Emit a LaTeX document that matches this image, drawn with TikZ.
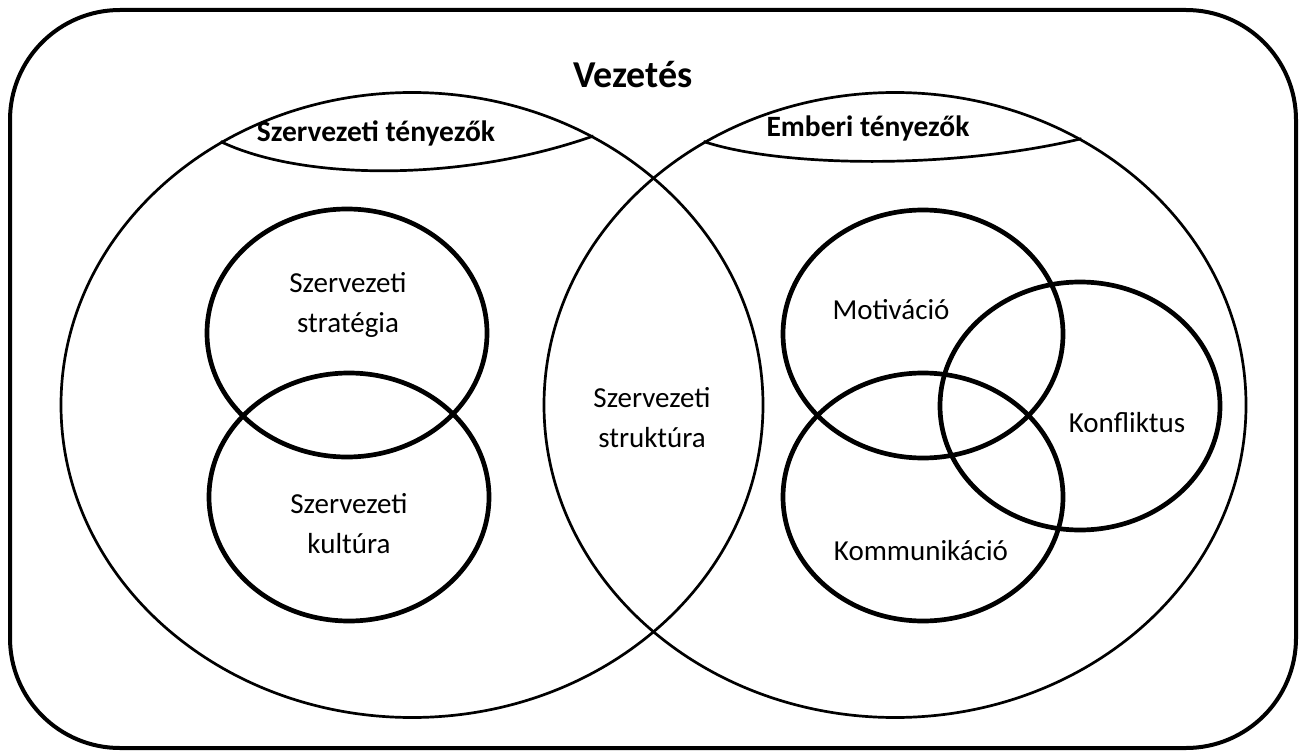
\documentclass[tikz,border=0pt]{standalone}
\usepackage{fontspec}
\setmainfont{Carlito}
\usepackage{tikz}
\usetikzlibrary{shapes,arrows,positioning,fit}

\begin{document}
\begin{tikzpicture}[x=1pt, y=-1pt]
			\tikzstyle{Frame}	= [line width=4pt, rounded corners=110pt]
			\tikzstyle{Field}	= [ellipse, draw, line width=2.7pt, minimum width=702pt, minimum height=625pt, inner sep=0pt]
			\tikzstyle{Factor}	= [ellipse, draw, line width=4.7pt, minimum width=280pt, minimum height=248pt, inner sep=0pt]
			\tikzstyle{Label}	= [font=\fontsize{29}{40}\selectfont, align=center, inner sep=0pt]
			\tikzstyle{Head}	= [font=\bfseries\fontsize{29.5}{35}\selectfont, inner sep=0pt, anchor=base]
			\tikzstyle{Title}	= [font=\bfseries\fontsize{38}{44}\selectfont, inner sep=0pt, anchor=base]
			\tikzstyle{Cap}		= [line width=2.7pt]
			
			\useasboundingbox (0,0) rectangle (1300,751);
			\draw [Frame] (10,10) rectangle (1296,748);
			
			\node (org) at (412,405) [Field] {};
			\node (hum) at (895,405) [Field] {};
			
			\node (strat) at (347,333) [Factor] {};
			\node (cult) at (349,497) [Factor] {};
			\node (motiv) at (923,334) [Factor] {};
			\node (confl) at (1080,406) [Factor] {};
			\node (comm) at (923,497) [Factor] {};
			
			\draw [Cap] (org.126) .. controls (300,180) and (460,183) .. (org.56);
			\draw [Cap] (hum.126) .. controls (780,167) and (950,170) .. (hum.55);
			
			\node (lead) at (633,88) [Title] {Vezetés};
			\node (orgtxt) at (376,142) [Head] {Szervezeti tényezők};
			\node (humtxt) at (868,137) [Head] {Emberi tényezők};
			
			\node (strattxt) at (348,305) [Label] {Szervezeti\\stratégia};
			\node (culttxt) at (349,524) [Label] {Szervezeti\\kultúra};
			\node (structxt) at (652,418) [Label] {Szervezeti\\struktúra};
			\node (motivtxt) at (891,319) [Label, anchor=base] {Motiváció};
			\node (confltxt) at (1127,432) [Label, anchor=base] {Konfliktus};
			\node (commtxt) at (921,560) [Label, anchor=base] {Kommunikáció};
\end{tikzpicture}
\end{document}
